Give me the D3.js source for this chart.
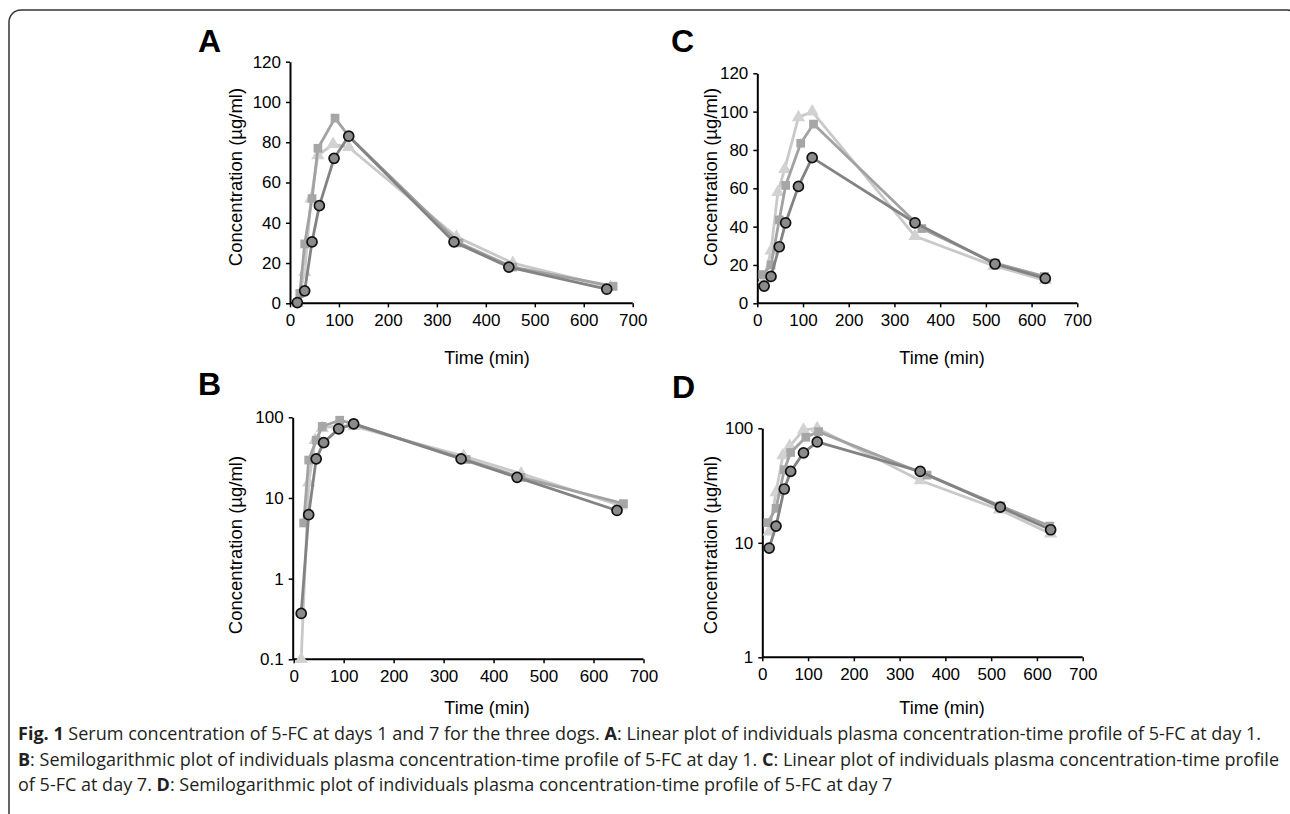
<!DOCTYPE html>
<html>
<head>
<meta charset="utf-8">
<script src="https://cdn.jsdelivr.net/npm/d3@7"></script>
<style>
  body { margin: 0; background: #fff; }
  svg { display: block; }
</style>
</head>
<body>
<div id="chart"></div>
<script>
// sampling times (min) and concentrations (µg/ml), three dogs
const day1Time1 = [15, 30, 45, 60, 90, 120, 335, 447, 647];
const day1Conc1 = [0.37, 6.2, 30.5, 48.5, 72, 83, 30.5, 18, 7];
const day1Time2 = [20, 30, 45, 57, 92, 120, 345, 455, 660];
const day1Conc2 = [4.9, 29.5, 52, 77, 92, 83, 30, 18, 8.5];
const day1Time3 = [15, 30, 43, 57, 88, 120, 340, 455, 655];
const day1Conc3 = [0.1, 15.5, 52, 73.5, 79, 77.5, 33, 20, 8];

const day7Time1 = [15, 30, 48, 62, 90, 120, 345, 520, 630];
const day7Conc1 = [9, 14, 29.5, 42, 61, 76, 42, 20.5, 13];
const day7Time2 = [12, 30, 48, 62, 95, 123, 360, 520, 628];
const day7Conc2 = [15, 20, 43.5, 61.5, 83.5, 93.5, 39, 21, 14];
const day7Time3 = [15, 30, 45, 60, 90, 120, 345, 518, 630];
const day7Conc3 = [12.5, 27.5, 58, 70, 97, 100, 35, 19.5, 12];

const xTicks = [0, 100, 200, 300, 400, 500, 600, 700];
const linTicks = [0, 20, 40, 60, 80, 100, 120];
const logTicksB = [0.1, 1, 10, 100];
const logTicksD = [1, 10, 100];

const W = 1290, H = 814;
const svg = d3.select("#chart").append("svg").attr("width", W).attr("height", H);

// frame
svg.append("rect")
  .attr("x", 9).attr("y", 10).attr("width", 1290).attr("height", 840)
  .attr("rx", 12)
  .attr("fill", "none").attr("stroke", "#333").attr("stroke-width", 1.5);

const dogs = [
  { line: "#c9c9c9", fill: "#d2d2d2", shape: "triangle" },
  { line: "#a2a2a2", fill: "#a6a6a6", shape: "square" },
  { line: "#838383", fill: "#8b8b8b", shape: "circle" }
];

function drawPanel(cfg) {
  const g = svg.append("g");
  const x = d3.scaleLinear().domain([0, 700]).range(cfg.xRange);
  const y = cfg.log
    ? d3.scaleLog().domain(cfg.yDomain).range(cfg.yRange)
    : d3.scaleLinear().domain(cfg.yDomain).range(cfg.yRange);

  const xAxis = g.append("g")
    .attr("transform", `translate(0,${cfg.yRange[0]})`)
    .call(d3.axisBottom(x).tickValues(xTicks).tickSize(4).tickSizeOuter(0).tickPadding(7));
  const yAxis = g.append("g")
    .attr("transform", `translate(${cfg.axisX},0)`)
    .call(d3.axisLeft(y).tickValues(cfg.yTicks).tickFormat((d) => String(d))
      .tickSize(4).tickSizeOuter(0).tickPadding(5));

  [xAxis, yAxis].forEach((a) => {
    a.select(".domain").attr("stroke", "#000").attr("stroke-width", 2);
    a.selectAll(".tick line").attr("stroke", "#000").attr("stroke-width", 1.5);
    a.selectAll("text").attr("font-family", "Liberation Sans, Arial, sans-serif")
      .attr("font-size", 17).attr("fill", "#000");
  });
  xAxis.select(".domain").attr("d", `M${cfg.axisX},0H${cfg.xRange[1]}`);

  // series: triangle, square, circle (circle on top)
  const order = [2, 1, 0];
  order.forEach((k, i) => {
    const st = dogs[i];
    const pts = cfg.times[k].map((t, j) => [t, cfg.concs[k][j]]);
    g.append("path")
      .datum(pts)
      .attr("fill", "none")
      .attr("stroke", st.line)
      .attr("stroke-width", 2.8)
      .attr("stroke-linejoin", "round")
      .attr("d", d3.line().x((d) => x(d[0])).y((d) => y(d[1])));

    const mk = g.selectAll(null).data(pts).enter();
    if (st.shape === "circle") {
      mk.append("circle")
        .attr("cx", (d) => x(d[0])).attr("cy", (d) => y(d[1]))
        .attr("r", 5)
        .attr("fill", st.fill).attr("stroke", "#111").attr("stroke-width", 1.7);
    } else {
      const sym = st.shape === "square"
        ? d3.symbol().type(d3.symbolSquare).size(76)
        : d3.symbol().type(d3.symbolTriangle).size(76);
      mk.append("path")
        .attr("transform", (d) => `translate(${x(d[0])},${y(d[1])})`)
        .attr("d", sym)
        .attr("fill", st.fill);
    }
  });

  g.append("text")
    .attr("x", cfg.letterPos[0]).attr("y", cfg.letterPos[1])
    .attr("font-family", "Liberation Sans, Arial, sans-serif")
    .attr("font-weight", "bold").attr("font-size", 32)
    .text(cfg.letter);

  g.append("text")
    .attr("x", cfg.xTitle[0]).attr("y", cfg.xTitle[1])
    .attr("text-anchor", "middle")
    .attr("font-family", "Liberation Sans, Arial, sans-serif")
    .attr("font-size", 18)
    .text("Time (min)");

  g.append("text")
    .attr("transform", `translate(${cfg.yTitle[0]},${cfg.yTitle[1]}) rotate(-90)`)
    .attr("text-anchor", "middle")
    .attr("font-family", "Liberation Sans, Arial, sans-serif")
    .attr("font-size", 18.5)
    .text("Concentration (µg/ml)");
}

drawPanel({
  letter: "A", letterPos: [198, 52],
  xRange: [290, 632.7], axisX: 290,
  yDomain: [0, 120], yRange: [303.3, 61.7], yTicks: linTicks,
  times: [day1Time1, day1Time2, day1Time3], concs: [day1Conc1, day1Conc2, day1Conc3],
  xTitle: [487, 364], yTitle: [242, 177]
});
drawPanel({
  letter: "C", letterPos: [671, 52],
  xRange: [757.3, 1077.3], axisX: 757.3,
  yDomain: [0, 120], yRange: [303.3, 73.3], yTicks: linTicks,
  times: [day7Time1, day7Time2, day7Time3], concs: [day7Conc1, day7Conc2, day7Conc3],
  xTitle: [942, 364], yTitle: [717, 177]
});
drawPanel({
  letter: "B", letterPos: [198, 395], log: true,
  xRange: [293.7, 643.5], axisX: 292.7,
  yDomain: [0.1, 100], yRange: [659.3, 417.3], yTicks: logTicksB,
  times: [day1Time1, day1Time2, day1Time3], concs: [day1Conc1, day1Conc2, day1Conc3],
  xTitle: [487, 714], yTitle: [242, 545]
});
drawPanel({
  letter: "D", letterPos: [672, 398], log: true,
  xRange: [762.3, 1082.7], axisX: 762.3,
  yDomain: [1, 100], yRange: [657.3, 428.3], yTicks: logTicksD,
  times: [day7Time1, day7Time2, day7Time3], concs: [day7Conc1, day7Conc2, day7Conc3],
  xTitle: [942, 714], yTitle: [717, 545]
});

// caption
const captionLines = [
  [["Fig. 1", true], [" Serum concentration of 5-FC at days 1 and 7 for the three dogs. ", false], ["A", true],
   [": Linear plot of individuals plasma concentration-time profile of 5-FC at day 1.", false]],
  [["B", true], [": Semilogarithmic plot of individuals plasma concentration-time profile of 5-FC at day 1. ", false],
   ["C", true], [": Linear plot of individuals plasma concentration-time profile", false]],
  [["of 5-FC at day 7. ", false], ["D", true],
   [": Semilogarithmic plot of individuals plasma concentration-time profile of 5-FC at day 7", false]]
];
const captionY = [740, 766, 791];

const capTexts = captionLines.map((parts, i) => {
  const t = svg.append("text")
    .attr("x", 18).attr("y", captionY[i])
    .attr("font-family", "Open Sans, sans-serif")
    .attr("font-size", 16)
    .attr("fill", "#231f20")
    .attr("xml:space", "preserve");
  parts.forEach((p) => {
    t.append("tspan").attr("font-weight", p[1] ? "bold" : "normal").text(p[0]);
  });
  return t;
});

// one font size for the caption, so the longest lines fit the frame width
const len1 = capTexts[0].node().getComputedTextLength();
const len2 = capTexts[1].node().getComputedTextLength();
const capSize = Math.min(16 * 1255 / len1, 16 * 1262 / len2);
capTexts.forEach((t) => t.attr("font-size", capSize));
</script>
</body>
</html>
